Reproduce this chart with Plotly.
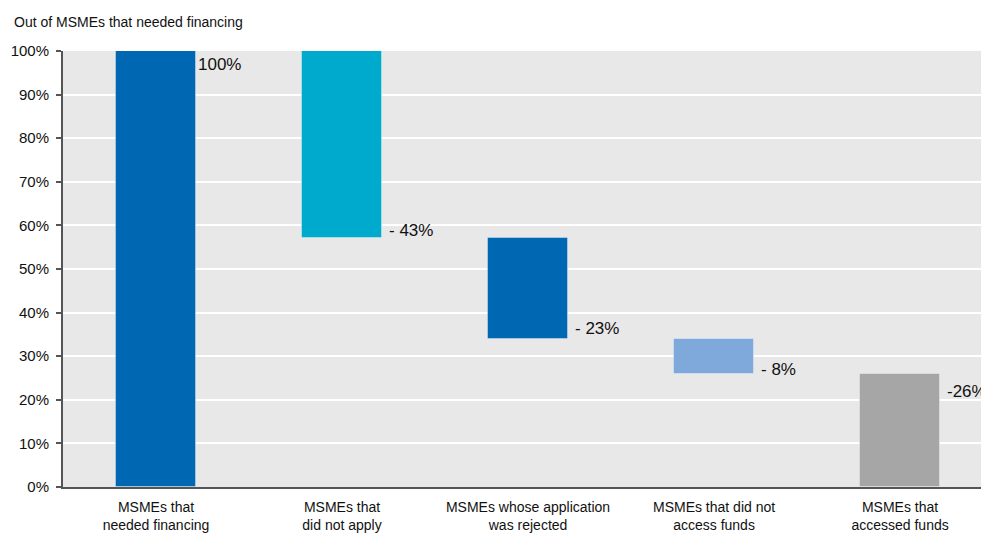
import plotly.graph_objects as go

categories = ["MSMEs that<br>needed financing", "MSMEs that<br>did not apply",
              "MSMEs whose application<br>was rejected", "MSMEs that did not<br>access funds",
              "MSMEs that<br>accessed funds"]
values = [100, -43, -23, -8, 26]
measures = ["absolute", "relative", "relative", "relative", "total"]
labels = ["100%", "- 43%", "- 23%", "- 8%", "-26%"]
colors = ["#0068b3", "#00aacd", "#0068b3", "#7fa8db", "#a6a6a6"]

# compute waterfall bases / heights
bases, heights = [], []
running = 0
for v, m in zip(values, measures):
    if m == "absolute":
        bases.append(0); heights.append(v); running = v
    elif m == "total":
        bases.append(0); heights.append(v)
    else:
        running_new = running + v
        bases.append(running_new); heights.append(-v); running = running_new

FONT = "Arial Narrow, Liberation Sans Narrow, Liberation Sans, Arial, sans-serif"

fig = go.Figure()
fig.add_trace(go.Bar(
    x=categories, y=heights, base=bases,
    marker=dict(color=colors, line=dict(color="rgba(255,255,255,0.35)", width=1)),
    width=0.43, hoverinfo="skip", showlegend=False,
))

# pixel nudges for the value labels (styling only; positive = up)
label_nudge_y = {0: -2, 1: -4, 2: -1, 3: -7, 4: -6}
label_nudge_x = {0: 40, 1: 45, 2: 45, 3: 45, 4: 45}
for i, (c, lab, m) in enumerate(zip(categories, labels, measures)):
    top = bases[i] + heights[i]
    bottom = bases[i]
    if m == "relative":
        y, ya = bottom, "bottom"
    else:
        y, ya = top, "top"
    fig.add_annotation(x=c, y=y, xref="x", yref="y", text=lab, showarrow=False,
                       xanchor="left", yanchor=ya, xshift=label_nudge_x[i], yshift=label_nudge_y[i],
                       font=dict(family=FONT, size=17, color="#111111"))

fig.add_annotation(xref="paper", yref="paper", x=(12 - 63) / 918, y=1 + (51 - 22) / 436,
                   text="Out of MSMEs that needed financing",
                   showarrow=False, xanchor="left", yanchor="middle",
                   font=dict(family=FONT, size=14, color="#111111"))

fig.update_layout(
    width=981, height=533,
    margin=dict(l=63, r=0, t=51, b=46),
    paper_bgcolor="white", plot_bgcolor="#e8e8e8",
    bargap=0,
    font=dict(family=FONT, size=15, color="#111111"),
)
fig.update_xaxes(range=[-0.5, 4.435], showline=True, linecolor="#555555", linewidth=2,
                 ticks="", showgrid=False, tickfont=dict(size=14), ticklabelstandoff=6)
fig.update_yaxes(range=[0, 100], dtick=10, ticksuffix="%", showline=True, linecolor="#555555",
                 linewidth=2, ticks="outside", ticklen=5, tickcolor="#555555", tickwidth=2,
                 showgrid=True, gridcolor="white", gridwidth=2, zeroline=False,
                 tickfont=dict(size=15), ticklabelstandoff=4)

fig.write_html("out.html")
